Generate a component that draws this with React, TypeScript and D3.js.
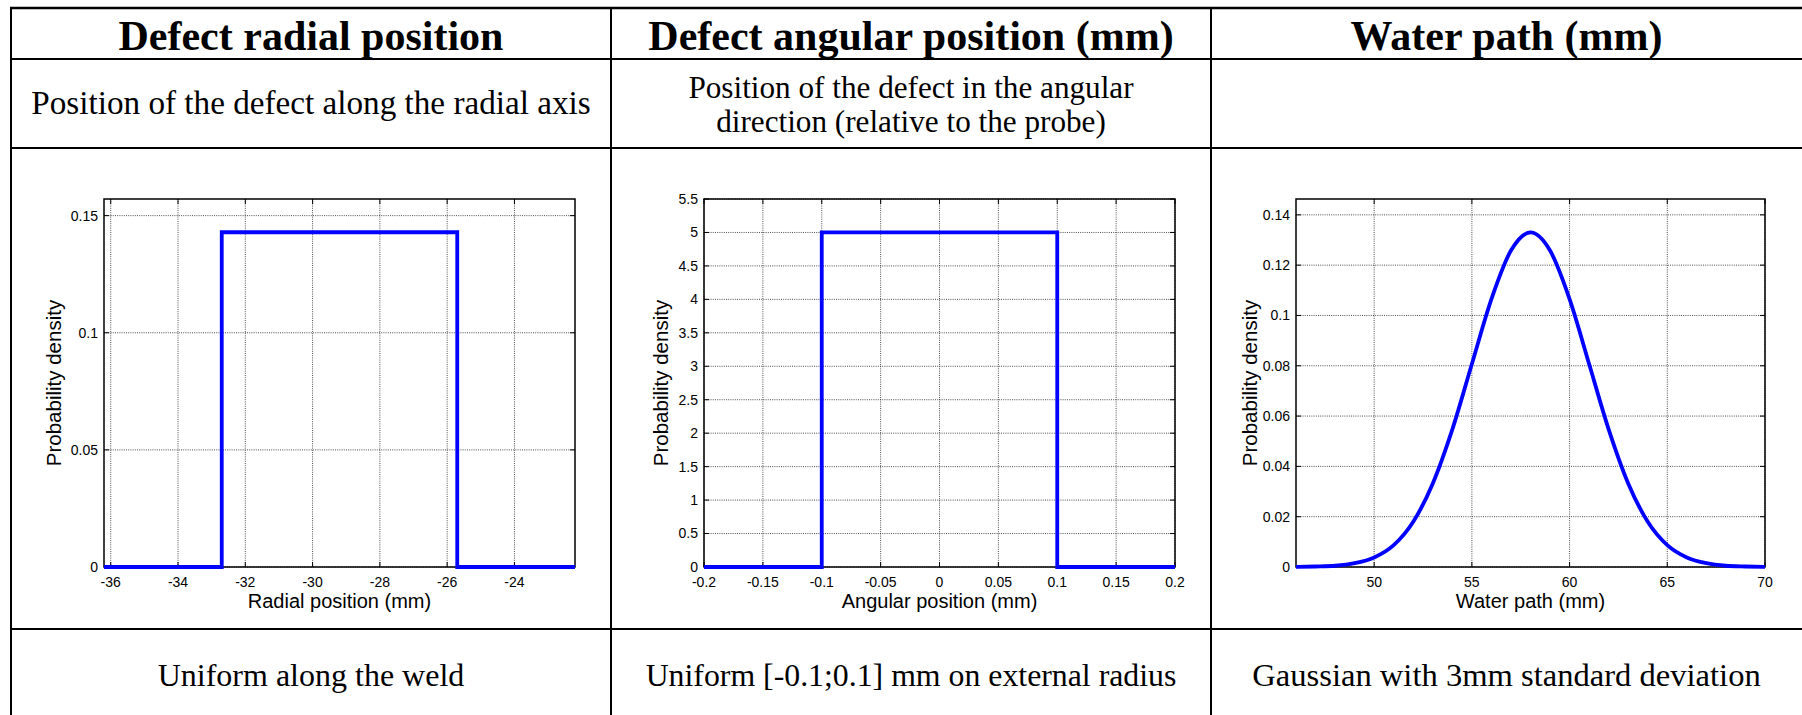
import React from "react";
import * as d3 from "d3";

const W = 1802;
const H = 715;

// Table grid
const colEdges = [11, 611, 1211, 1802];
const rowEdges = [8, 59, 148, 629];

const headers = ["Defect radial position", "Defect angular position (mm)", "Water path (mm)"];
const descriptions: string[][] = [
  ["Position of the defect along the radial axis"],
  ["Position of the defect in the angular", "direction (relative to the probe)"],
  [],
];
const footers = [
  "Uniform along the weld",
  "Uniform [-0.1;0.1] mm on external radius",
  "Gaussian with 3mm standard deviation",
];

// Radial position density (uniform)
const radialX = [-36.2, -32.7, -32.7, -25.7, -25.7, -22.2];
const radialY = [0, 0, 0.1429, 0.1429, 0, 0];
const radialXTicks = [-36, -34, -32, -30, -28, -26, -24];
const radialYTicks = [0, 0.05, 0.1, 0.15];

// Angular position density (uniform)
const angularX = [-0.2, -0.1, -0.1, 0.1, 0.1, 0.2];
const angularY = [0, 0, 5, 5, 0, 0];
const angularXTicks = [-0.2, -0.15, -0.1, -0.05, 0, 0.05, 0.1, 0.15, 0.2];
const angularYTicks = [0, 0.5, 1, 1.5, 2, 2.5, 3, 3.5, 4, 4.5, 5, 5.5];

// Water path density (gaussian)
const waterX = [46, 47, 48, 49, 50, 51, 52, 53, 54, 55, 56, 57, 58, 59, 60, 61, 62, 63, 64, 65, 66, 67, 68, 69, 70];
const waterY = [
  0.00004, 0.0002, 0.0005, 0.0015, 0.0038, 0.0087, 0.018, 0.0332, 0.0547, 0.0807, 0.1065, 0.1258, 0.133,
  0.1258, 0.1065, 0.0807, 0.0547, 0.0332, 0.018, 0.0087, 0.0038, 0.0015, 0.0005, 0.0002, 0.00004,
];
const waterXTicks = [50, 55, 60, 65, 70];
const waterYTicks = [0, 0.02, 0.04, 0.06, 0.08, 0.1, 0.12, 0.14];

const fmt = (v: number) => String(Number(v.toFixed(6)));

const SANS = "'Liberation Sans', Arial, sans-serif";
const SERIF = "'Liberation Serif', 'Times New Roman', serif";

type PlotProps = {
  left: number;
  right: number;
  top: number;
  bottom: number;
  xDomain: [number, number];
  yDomain: [number, number];
  xTicks: number[];
  yTicks: number[];
  xs: number[];
  ys: number[];
  xLabel: string;
  yLabelX: number;
  smooth?: boolean;
};

function Plot(p: PlotProps) {
  const x = d3.scaleLinear().domain(p.xDomain).range([p.left, p.right]);
  const y = d3.scaleLinear().domain(p.yDomain).range([p.bottom, p.top]);
  const line = d3
    .line<number>()
    .x((_, i) => x(p.xs[i]))
    .y((_, i) => y(p.ys[i]))
    .curve(p.smooth ? d3.curveMonotoneX : d3.curveLinear);
  const tl = 5;
  const grid = { stroke: "#222", strokeWidth: 0.8, strokeDasharray: "1 1.2" };
  const cy = (p.top + p.bottom) / 2;
  return (
    <g>
      {p.xTicks.map((t) => (
        <line key={"gx" + t} x1={x(t)} x2={x(t)} y1={p.top} y2={p.bottom} {...grid} />
      ))}
      {p.yTicks.map((t) => (
        <line key={"gy" + t} x1={p.left} x2={p.right} y1={y(t)} y2={y(t)} {...grid} />
      ))}
      {p.xTicks.map((t) => (
        <g key={"tx" + t}>
          <line x1={x(t)} x2={x(t)} y1={p.bottom} y2={p.bottom - tl} stroke="#000" strokeWidth={1} />
          <line x1={x(t)} x2={x(t)} y1={p.top} y2={p.top + tl} stroke="#000" strokeWidth={1} />
          <text x={x(t)} y={p.bottom + 20} textAnchor="middle" fontFamily={SANS} fontSize={14} fill="#000">
            {fmt(t)}
          </text>
        </g>
      ))}
      {p.yTicks.map((t) => (
        <g key={"ty" + t}>
          <line x1={p.left} x2={p.left + tl} y1={y(t)} y2={y(t)} stroke="#000" strokeWidth={1} />
          <line x1={p.right} x2={p.right - tl} y1={y(t)} y2={y(t)} stroke="#000" strokeWidth={1} />
          <text
            x={p.left - 6}
            y={y(t)}
            dy="0.35em"
            textAnchor="end"
            fontFamily={SANS}
            fontSize={14}
            fill="#000"
          >
            {fmt(t)}
          </text>
        </g>
      ))}
      <rect
        x={p.left}
        y={p.top}
        width={p.right - p.left}
        height={p.bottom - p.top}
        fill="none"
        stroke="#000"
        strokeWidth={1.5}
      />
      <path d={line(p.xs) || ""} fill="none" stroke="#0000ff" strokeWidth={3.8} strokeLinejoin="miter" />
      <text
        x={(p.left + p.right) / 2}
        y={p.bottom + 41}
        textAnchor="middle"
        fontFamily={SANS}
        fontSize={20}
        fill="#000"
      >
        {p.xLabel}
      </text>
      <text
        transform={`translate(${p.yLabelX},${cy}) rotate(-90)`}
        textAnchor="middle"
        fontFamily={SANS}
        fontSize={20.5}
        fill="#000"
      >
        Probability density
      </text>
    </g>
  );
}

function CellText({ x, y, size, bold, children }: { x: number; y: number; size: number; bold?: boolean; children: string }) {
  return (
    <text
      x={x}
      y={y}
      textAnchor="middle"
      fontFamily={SERIF}
      fontSize={size}
      fontWeight={bold ? "bold" : "normal"}
      fill="#000"
    >
      {children}
    </text>
  );
}

export default function App() {
  const centers = [0, 1, 2].map((i) => (colEdges[i] + colEdges[i + 1]) / 2);
  const descSize = [33.2, 31.2, 32];
  const footSize = [32, 31.8, 32.6];
  const chartTop = 199;
  const chartBottom = 567;
  return (
    <svg width={W} height={H} style={{ position: "absolute", left: 0, top: 0, background: "#fff" }}>
      <rect x={0} y={0} width={W} height={H} fill="#fff" />
      {/* table rules */}
      <line x1={colEdges[0] - 1} x2={W} y1={rowEdges[0]} y2={rowEdges[0]} stroke="#000" strokeWidth={2.5} />
      {rowEdges.slice(1).map((r) => (
        <line key={r} x1={colEdges[0] - 1} x2={W} y1={r} y2={r} stroke="#000" strokeWidth={2} />
      ))}
      {colEdges.slice(0, 3).map((c) => (
        <line key={c} x1={c} x2={c} y1={rowEdges[0] - 1} y2={H} stroke="#000" strokeWidth={2} />
      ))}

      {headers.map((h, i) => (
        <CellText key={h} x={centers[i]} y={50} size={42} bold>
          {h}
        </CellText>
      ))}
      {descriptions.map((lines, i) =>
        lines.map((t, j) => (
          <CellText
            key={t}
            x={centers[i]}
            y={lines.length === 1 ? 114 : 98 + j * 34}
            size={descSize[i]}
          >
            {t}
          </CellText>
        ))
      )}
      {footers.map((f, i) => (
        <CellText key={f} x={centers[i]} y={686} size={footSize[i]}>
          {f}
        </CellText>
      ))}

      <Plot
        left={104}
        right={575}
        top={chartTop}
        bottom={chartBottom}
        xDomain={[-36.2, -22.2]}
        yDomain={[0, 0.1571]}
        xTicks={radialXTicks}
        yTicks={radialYTicks}
        xs={radialX}
        ys={radialY}
        xLabel="Radial position (mm)"
        yLabelX={61}
      />
      <Plot
        left={704}
        right={1175}
        top={chartTop}
        bottom={chartBottom}
        xDomain={[-0.2, 0.2]}
        yDomain={[0, 5.5]}
        xTicks={angularXTicks}
        yTicks={angularYTicks}
        xs={angularX}
        ys={angularY}
        xLabel="Angular position (mm)"
        yLabelX={668}
      />
      <Plot
        left={1296}
        right={1765}
        top={chartTop}
        bottom={chartBottom}
        xDomain={[46, 70]}
        yDomain={[0, 0.1463]}
        xTicks={waterXTicks}
        yTicks={waterYTicks}
        xs={waterX}
        ys={waterY}
        xLabel="Water path (mm)"
        yLabelX={1257}
        smooth
      />
    </svg>
  );
}
